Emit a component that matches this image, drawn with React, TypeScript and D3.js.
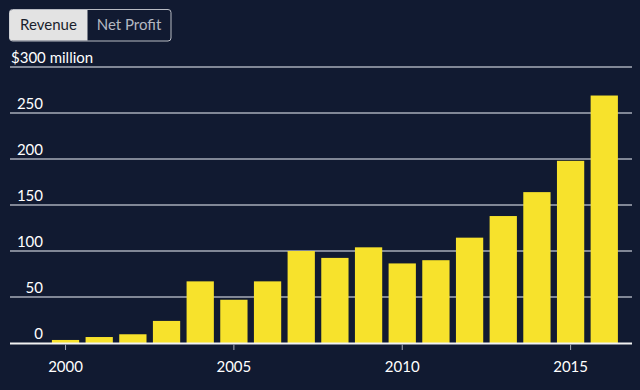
import * as React from "react"
import * as d3 from "d3"

// revenue, $ million, by year
const years = [2000, 2001, 2002, 2003, 2004, 2005, 2006, 2007, 2008, 2009, 2010, 2011, 2012, 2013, 2014, 2015, 2016]
const revenue = [3.3, 6.5, 9.5, 24, 67, 47, 67, 100, 92.5, 104, 86.5, 90, 114.5, 138, 164, 198, 269]
const yTicks = [0, 50, 100, 150, 200, 250, 300]
const xTicks = [2000, 2005, 2010, 2015]
const tabs = ["Revenue", "Net Profit"]

const BG = "#111a31"
const BAR = "#f7e22c"
const FONT = "Lato, 'Noto Sans', sans-serif"

export default function App() {
    const width = 640
    const height = 390

    const x = d3
        .scaleBand<number>()
        .domain(years)
        .range([48.7, 621.1])
        .paddingInner(0.19)
        .paddingOuter(0.095)

    const y = d3.scaleLinear().domain([0, 300]).range([343, 67])

    const center = (yr: number) => (x(yr) as number) + x.bandwidth() / 2

    return (
        <svg
            width={width}
            height={height}
            style={{ position: "absolute", left: 0, top: 0, background: BG, fontFamily: FONT }}
        >
            <rect width={width} height={height} fill={BG} />

            {/* tabs */}
            <g>
                <rect x={9.5} y={9.5} width={161.5} height={31.5} rx={3} fill={BG} stroke="#b9bcc4" />
                <path d="M12.5,10 H87.5 V40.5 H12.5 a3,3 0 0 1 -3,-3 V13 a3,3 0 0 1 3,-3 Z" fill="#e3e3e3" />
                <text x={48.5} y={30} textAnchor="middle" fontSize={15} fill="#1a1f2c">{tabs[0]}</text>
                <text x={129} y={30} textAnchor="middle" fontSize={15} fill="#b4b8c2">{tabs[1]}</text>
            </g>

            {/* grid + y labels */}
            {yTicks.map((t) => (
                <g key={t}>
                    {t > 0 && (
                        <line x1={10} x2={632} y1={y(t)} y2={y(t)} stroke="#a7acb9" strokeWidth={1.3} />
                    )}
                    {t === 300 ? (
                        <text x={11} y={y(t) - 4} fontSize={15} fill="#ffffff">${t} million</text>
                    ) : (
                        <text x={43} y={y(t) - 4} textAnchor="end" fontSize={15} fill="#ffffff">{t}</text>
                    )}
                </g>
            ))}

            {/* bars */}
            {years.map((yr, i) => (
                <rect
                    key={yr}
                    x={x(yr)}
                    y={y(revenue[i])}
                    width={x.bandwidth()}
                    height={y(0) - y(revenue[i])}
                    fill={BAR}
                />
            ))}

            {/* x axis */}
            <line x1={10} x2={632} y1={y(0) + 0.5} y2={y(0) + 0.5} stroke="#f2f2f2" strokeWidth={2} />
            {xTicks.map((t) => (
                <g key={t}>
                    <line x1={center(t)} x2={center(t)} y1={y(0) + 1.5} y2={y(0) + 7} stroke="#a7acb9" />
                    <text x={center(t)} y={372} textAnchor="middle" fontSize={15} fill="#ffffff">{t}</text>
                </g>
            ))}
        </svg>
    )
}
